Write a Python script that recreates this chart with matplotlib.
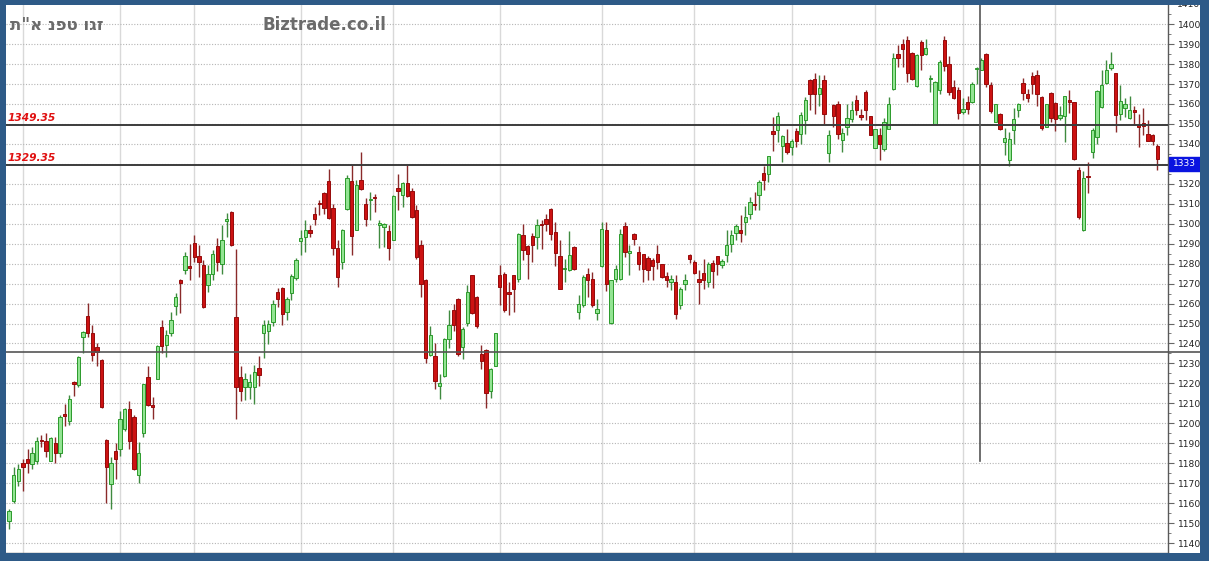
import matplotlib
matplotlib.use("Agg")
import matplotlib.pyplot as plt
import matplotlib.transforms as mtransforms
from matplotlib.patches import Rectangle
from matplotlib.ticker import MultipleLocator, FuncFormatter

# ---------------- data ----------------
opens = [1151, 1161, 1171, 1180, 1182, 1179.5, 1181, 1191.5, 1191, 1181,
         1190, 1185, 1204.5, 1201, 1220.5, 1219, 1243, 1254, 1245, 1238,
         1231.5, 1191.5, 1169.5, 1186, 1187, 1197, 1207, 1203, 1174, 1195,
         1223, 1209, 1222, 1248, 1239, 1245, 1259, 1272, 1277, 1279,
         1290.5, 1284, 1279.5, 1269.5, 1275, 1289, 1280, 1301.5, 1306, 1253.5,
         1223, 1218, 1218, 1218, 1227.5, 1245, 1246, 1251, 1266, 1268,
         1256, 1265.5, 1273, 1291.5, 1293.5, 1297, 1305, 1310.5, 1315.5, 1321.5,
         1308, 1288, 1281, 1307.5, 1321.5, 1297, 1322, 1310, 1312, 1313.5,
         1299.5, 1298.5, 1296.5, 1292, 1318, 1314.5, 1320.5, 1316.5, 1307, 1289.5,
         1272, 1234, 1233.5, 1218.5, 1223.5, 1242, 1257, 1262.5, 1238, 1250.5,
         1274.5, 1263.5, 1234.5, 1236.5, 1216, 1228.5, 1274.5, 1275, 1265.5, 1274.5,
         1272.5, 1294.5, 1289, 1294, 1293.5, 1300, 1302.5, 1307.5, 1296, 1284,
         1277.3, 1277, 1288.5, 1256, 1259.5, 1275, 1272.5, 1255.5, 1279, 1297,
         1250.5, 1272.5, 1272.5, 1299, 1285.5, 1295, 1286, 1285, 1283, 1282,
         1285, 1280, 1274, 1271, 1271, 1259.5, 1270, 1284.5, 1281, 1272.5,
         1275.5, 1271, 1280.5, 1284, 1279.5, 1284.5, 1290, 1295.5, 1297, 1301,
         1305, 1309.7, 1314.5, 1325.5, 1325, 1346.5, 1347, 1339, 1340.5, 1338.5,
         1346.5, 1345, 1352, 1372, 1372.5, 1365, 1372, 1335.5, 1359.5, 1360,
         1342, 1348.5, 1352.5, 1362, 1354.2, 1366, 1354, 1338, 1344.5, 1337.5,
         1347.5, 1367.5, 1385, 1390, 1392, 1385.5, 1369, 1391, 1385, 1372.5,
         1350, 1367, 1392, 1380, 1368.5, 1367, 1356, 1361, 1361, 1377.5,
         1377, 1385, 1369.5, 1351, 1355, 1341, 1332, 1347, 1357, 1370.5,
         1365, 1374, 1374.5, 1363.5, 1348.5, 1365.5, 1360.5, 1353, 1354, 1362,
         1361, 1327, 1297, 1324, 1336, 1343.5, 1358.5, 1370.5, 1378, 1375.5,
         1355, 1358, 1353, 1356.8, 1349.2, 1350.5, 1345, 1344.5, 1339]
highs = [1157, 1178, 1179.5, 1182, 1187, 1188, 1193, 1194, 1195, 1193,
         1193, 1204, 1209.5, 1214, 1221, 1233.5, 1246, 1260.5, 1249, 1240,
         1232, 1192, 1183, 1190, 1206, 1207.5, 1211, 1204, 1190.5, 1219.5,
         1228.5, 1213, 1239, 1252, 1246.5, 1256, 1265.5, 1272.5, 1286, 1290,
         1294.5, 1289.5, 1282, 1279.5, 1287, 1293, 1299.5, 1305.5, 1306.5, 1287.5,
         1228.5, 1225, 1224.5, 1229, 1233.5, 1252, 1252, 1262, 1268, 1268.5,
         1263.5, 1275, 1283, 1297, 1302, 1299.5, 1308.5, 1312, 1316, 1327.5,
         1310, 1292, 1297.5, 1324.5, 1329.5, 1322, 1336, 1313, 1316, 1315,
         1302, 1300.5, 1299.5, 1314.5, 1325, 1321, 1329.5, 1318, 1309.5, 1292,
         1272.5, 1248.5, 1240, 1224.5, 1242.5, 1257, 1260, 1263, 1248, 1269.5,
         1274.5, 1264, 1239, 1237, 1227.5, 1245, 1279.5, 1276, 1271, 1274.5,
         1295.5, 1300, 1289.5, 1295.5, 1302.5, 1302, 1305, 1308, 1301, 1292,
         1282.5, 1296.5, 1289, 1264.5, 1274.5, 1278, 1276, 1262.5, 1301, 1301,
         1272, 1279.5, 1297.5, 1301, 1289.5, 1295.5, 1289, 1285, 1284, 1283,
         1289.5, 1280, 1276, 1274.5, 1274.5, 1268.5, 1275, 1285, 1282, 1277,
         1282.5, 1281, 1282, 1284, 1282.5, 1297, 1297, 1300, 1304.5, 1309,
         1313.5, 1316, 1322, 1329, 1334, 1353.5, 1356, 1344.5, 1347.5, 1342.5,
         1348, 1356, 1363.5, 1372.5, 1375.5, 1374.5, 1374.5, 1347, 1360, 1361.5,
         1348, 1360, 1361.5, 1364.5, 1357.5, 1367, 1354, 1347.5, 1348, 1353,
         1363.5, 1385.5, 1389.5, 1392.5, 1394, 1386, 1385, 1392, 1392.5, 1374.5,
         1371.5, 1382, 1394, 1384, 1372, 1368.5, 1363, 1364, 1371, 1378.5,
         1383, 1385.5, 1371, 1360, 1355.5, 1348, 1346, 1358, 1360.5, 1373,
         1367.5, 1376, 1377, 1364, 1360, 1366, 1361, 1359, 1364, 1367,
         1361, 1328.5, 1326.5, 1331, 1348, 1367, 1377, 1382, 1386, 1375.5,
         1369.5, 1363, 1364, 1359, 1355, 1358, 1352, 1345, 1340]
lows = [1147, 1160, 1168.5, 1166, 1175, 1177, 1179.5, 1188, 1183, 1181,
        1180, 1183, 1198.5, 1199, 1213.5, 1218, 1235, 1243, 1231, 1228.5,
        1207.5, 1160, 1157, 1172, 1183.5, 1196, 1187, 1176.5, 1170, 1193,
        1208.5, 1202, 1222, 1235, 1233, 1243.5, 1254.5, 1255.5, 1275, 1272,
        1281, 1273.5, 1258, 1266, 1272, 1276.5, 1275, 1293.5, 1289, 1202,
        1211, 1211.5, 1212, 1209.5, 1218.5, 1232.5, 1239.5, 1248.5, 1258.5, 1249.5,
        1252, 1262, 1272, 1284.5, 1286, 1293.5, 1299.5, 1304.5, 1305, 1302.5,
        1284.5, 1268.5, 1277.5, 1307, 1284.5, 1297, 1317, 1299, 1302, 1306,
        1288, 1288.5, 1282, 1292, 1307, 1308.5, 1313.5, 1303, 1282.5, 1263.5,
        1230, 1233.5, 1217, 1212, 1223, 1237.5, 1246, 1233.5, 1232, 1248.5,
        1255, 1247.5, 1227, 1207.5, 1212.5, 1228.5, 1259.5, 1256, 1254.5, 1256,
        1271, 1282, 1272.5, 1281, 1287.5, 1287.5, 1296.5, 1292, 1279, 1267.5,
        1271, 1276.5, 1277, 1252.5, 1258.5, 1263.5, 1258.5, 1252, 1278.5, 1266.5,
        1250, 1271, 1272, 1283.5, 1274.5, 1289.5, 1277, 1271, 1272, 1272,
        1277.5, 1273, 1268.5, 1267, 1252.5, 1257.5, 1267, 1280.5, 1275, 1260,
        1267.5, 1268.5, 1268, 1274.5, 1278, 1281, 1286, 1292, 1291, 1294.5,
        1302.5, 1307, 1307, 1317, 1321, 1336.5, 1341, 1331, 1335, 1334.5,
        1338.5, 1340, 1345, 1357, 1355, 1359, 1350, 1331, 1348.5, 1342.5,
        1336, 1344.5, 1351, 1354.5, 1352, 1352, 1344.5, 1338, 1332, 1336.5,
        1347.5, 1367, 1378.5, 1378.5, 1371, 1372, 1368.5, 1377, 1384.5, 1366,
        1350, 1365, 1376.5, 1364.5, 1362.5, 1352.5, 1355, 1355, 1360.5, 1370,
        1377, 1368.5, 1355.5, 1351, 1347, 1334.5, 1329, 1340, 1353.5, 1362,
        1361, 1365, 1359, 1347, 1348.5, 1351, 1346.5, 1352, 1341, 1355.5,
        1332, 1302.5, 1296.5, 1315.5, 1333, 1340, 1358, 1370, 1377, 1346,
        1352, 1353.5, 1352.5, 1349.5, 1338.5, 1344.5, 1341.5, 1339.5, 1327]
closes = [1156, 1174, 1177, 1178, 1180, 1185, 1191, 1191, 1186, 1192.5,
          1185, 1203, 1203.5, 1212, 1219.5, 1233, 1245.5, 1245, 1234, 1235.5,
          1208, 1178, 1180, 1182, 1202, 1207, 1191, 1177, 1185, 1219.5,
          1209, 1208.5, 1238.5, 1238.5, 1244, 1252, 1263.5, 1270.5, 1284, 1278,
          1283.5, 1281, 1258.5, 1275, 1285, 1281, 1292, 1302.5, 1289.5, 1218,
          1216, 1222, 1220.5, 1225.5, 1224, 1249.5, 1250, 1260, 1262.5, 1255,
          1262.5, 1274, 1282, 1293, 1297, 1295.5, 1302.5, 1310, 1308, 1303,
          1288, 1273.5, 1297, 1323, 1294, 1319.5, 1317.5, 1302.5, 1312.5, 1313,
          1300.5, 1300, 1288, 1314, 1316.5, 1320.5, 1314, 1303.5, 1283.5, 1270,
          1232.5, 1244, 1221, 1220, 1242, 1249, 1249, 1234.5, 1247, 1266,
          1255.5, 1248.5, 1231, 1215, 1227, 1245, 1268.5, 1257, 1265, 1267.5,
          1295, 1287, 1285, 1289.5, 1299.5, 1299.5, 1300, 1295, 1285.5, 1267.5,
          1277.8, 1284.5, 1277.5, 1260, 1273.5, 1272, 1259.5, 1257.5, 1297.5, 1270,
          1272, 1277.5, 1295, 1286, 1286, 1292.5, 1280, 1277.5, 1277, 1279,
          1281, 1273.5, 1272, 1272.5, 1255, 1267.5, 1272, 1282.5, 1275.5, 1271,
          1272, 1280, 1276.5, 1280, 1281.5, 1289.5, 1294.5, 1299, 1295.5, 1303.5,
          1311, 1309.3, 1321, 1322, 1334, 1345, 1354, 1344, 1336, 1341.5,
          1341.5, 1354.5, 1362, 1365, 1365, 1368, 1355, 1344.5, 1354, 1345,
          1345.5, 1353, 1357, 1357, 1353.8, 1357, 1344.5, 1347.5, 1340, 1351,
          1360, 1383, 1383, 1387.5, 1375.5, 1372.5, 1384.5, 1384.5, 1388, 1373,
          1371, 1381, 1379, 1366, 1363, 1355.5, 1357.5, 1357.5, 1370, 1378.2,
          1382, 1370, 1356.5, 1360, 1347.5, 1343, 1342.5, 1352.5, 1360, 1365.5,
          1363, 1370, 1365, 1348, 1360, 1353, 1352.5, 1354.5, 1364, 1361,
          1332.5, 1303.5, 1323, 1323.5, 1347, 1366.5, 1369.5, 1377, 1380, 1354.5,
          1361.5, 1360, 1357, 1356.2, 1348.6, 1349, 1341.5, 1341.5, 1332.5]

month_starts = [3, 24, 40, 63, 83, 106, 128, 148, 169, 187, 206, 226]
level_values = [1349.35, 1329.35]
level_labels = ["1349.35", "1329.35"]
last_value_label = "1333"
last_value_pos = 1330.0
cross_x = 209.7
cross_y = 1235.7
title_text = 'ת"א נפט וגז'
brand_text = "Biztrade.co.il"

# ---------------- figure ----------------
W, H = 1209, 561
fig = plt.figure(figsize=(W / 100, H / 100), dpi=100)
fig.patch.set_facecolor("white")
L, R, T, B = 6, 1168, 5, 553
ax = fig.add_axes([L / W, (H - B) / H, (R - L) / W, (B - T) / H])
ax.set_facecolor("white")

n = len(opens)
xs = list(range(n))
ax.set_xlim(-0.65, 250.3)
ax.set_ylim(1135, 1409.6)

# grid
for m in month_starts:
    ax.axvline(m, color="#d9d9d9", lw=1.0, zorder=0)
ax.yaxis.set_major_locator(MultipleLocator(10))
ax.yaxis.set_minor_locator(MultipleLocator(5))
ax.grid(axis="y", which="major", linestyle=(0, (1, 1.5)), color="#b5b5b5", lw=0.8, zorder=0)

# candles
g_fill, g_edge, g_wick = "#93e493", "#2b9a2b", "#3f8a3f"
r_fill, r_edge, r_wick = "#cc1212", "#960a0a", "#8a2a2a"
wick_cols, fills, edges, bottoms, heights = [], [], [], [], []
for o, c in zip(opens, closes):
    up = c >= o
    wick_cols.append(g_wick if up else r_wick)
    fills.append(g_fill if up else r_fill)
    edges.append(g_edge if up else r_edge)
    lo = min(o, c)
    h = abs(c - o)
    if h < 0.7:
        lo = (o + c) / 2 - 0.35
        h = 0.7
    bottoms.append(lo)
    heights.append(h)
ax.vlines(xs, lows, highs, colors=wick_cols, linewidth=1.0, zorder=2)
ax.bar(xs, heights, bottom=bottoms, width=0.72, color=fills, edgecolor=edges,
       linewidth=0.7, zorder=3)

blend = mtransforms.blended_transform_factory(ax.transAxes, ax.transData)

# level lines + labels
for v, lab in zip(level_values, level_labels):
    ax.axhline(v, color="#3c3c3c", lw=1.4, zorder=4)
    ax.text(0.0017, v + 1.3, lab, transform=blend,
            color="#e01010", fontsize=7.7, fontstyle="italic", fontweight="bold",
            ha="left", va="bottom", zorder=6)

# crosshair
ax.axhline(cross_y, xmin=0, xmax=(1200 - L) / (R - L), color="#555555", lw=1.2,
           zorder=4, clip_on=False)
ax.axvline(cross_x, ymin=(B - 461) / (B - T), ymax=1, color="#555555", lw=1.2, zorder=4)

# axes styling
ax.set_xticks([])
ax.yaxis.tick_right()
hidden_tick = round(last_value_pos)
ax.yaxis.set_major_formatter(FuncFormatter(
    lambda v, p: "" if abs(v - hidden_tick) < 1 else f"{v:.0f}"))
ax.tick_params(axis="y", which="major", length=4, width=0.8, color="#666666",
               labelsize=6.6, labelcolor="#222222", pad=3)
ax.tick_params(axis="y", which="minor", length=2, width=0.6, color="#666666")
for s in ["left", "top"]:
    ax.spines[s].set_visible(False)
for s in ["right", "bottom"]:
    ax.spines[s].set_color("#5a5a5a")
    ax.spines[s].set_linewidth(1.0)

ax.text(1.0 + 9 / (R - L), 1410, "1410", transform=blend, fontsize=6.6, color="#222222",
        ha="left", va="center", clip_on=False)

# last value box
ax.add_patch(Rectangle((1.0 + 1 / (R - L), last_value_pos - 3.5), (1200 - R - 1) / (R - L), 7.0,
                       transform=blend, facecolor="#0a14e0", edgecolor="#0a14e0",
                       clip_on=False, zorder=8))
ax.text(1.0 + 16.5 / (R - L), last_value_pos, last_value_label, transform=blend,
        fontsize=6.6, color="white", ha="center", va="center", clip_on=False, zorder=9)

# titles
fig.text(10 / W, 1 - 25 / H, title_text, fontsize=12, fontweight="bold", color="#6b6b6b",
         ha="left", va="center", family=["DejaVu Sans"])
fig.text(263 / W, 1 - 25 / H, brand_text, fontsize=12, fontweight="bold", color="#6b6b6b",
         ha="left", va="center")

# blue frame
frame_col = "#2e5a87"
for (x0, y0, w, h) in [(0, 0, W, T), (0, B, W, H - B), (0, 0, L, H), (1200, 0, W - 1200, H)]:
    fig.patches.append(Rectangle((x0 / W, 1 - (y0 + h) / H), w / W, h / H,
                                 transform=fig.transFigure, facecolor=frame_col,
                                 edgecolor="none", zorder=20))

fig.savefig("out.png", dpi=100, facecolor=fig.get_facecolor())
